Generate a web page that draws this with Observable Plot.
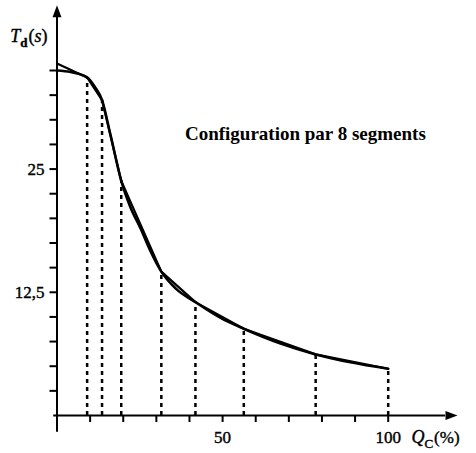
<!DOCTYPE html>
<html>
<head>
<meta charset="utf-8">
<script src="https://cdn.jsdelivr.net/npm/d3@7"></script>
<script src="https://cdn.jsdelivr.net/npm/@observablehq/plot@0.6"></script>
<style>
  html, body { margin: 0; padding: 0; background: #fff; }
  #chart svg { display: block; }
</style>
</head>
<body>
<div id="chart"></div>
<script>
// ---- data ----
const breakX = [9.1, 13.6, 19.4, 31.5, 41.8, 56.4, 78.1, 100];
const breakY = [34.3, 32.0, 23.8, 14.6, 11.5, 8.8, 6.2, 4.74];
const segStartX = 0;
const segStartY = 35.7;
const curveX = [0, 4.1, 9.1, 11.3, 13.6, 16.2, 19.4, 22.2, 25.2, 28.2, 31.5, 35.8, 41.8, 49.4, 56.4, 67.5, 78.1, 88.6, 100];
const curveY = [35.0, 34.85, 34.3, 33.4, 32.0, 28.4, 23.8, 21.1, 19.0, 16.7, 14.6, 12.9, 11.5, 9.9, 8.8, 7.3, 6.2, 5.4, 4.74];
const xTicks = [10, 20, 30, 40, 50, 60, 70, 80, 90, 100];
const yTicks = [2.5, 5, 7.5, 10, 12.5, 15, 17.5, 20, 22.5, 25, 27.5, 30, 32.5, 35];
const xLabelValues = [50, 100];
const xLabelTexts = ["50", "100"];
const yLabelValues = [25, 12.5];
const yLabelTexts = ["25", "12,5"];
const titleText = "Configuration par 8 segments";
const yName = ["T", "d", "s"];   // T_d(s)
const xName = ["Q", "C", "%"];   // Q_C(%)

// ---- tables built from the arrays ----
const segPts = [{x: segStartX, y: segStartY}, ...breakX.map((x, i) => ({x, y: breakY[i]}))];
const curvePts = curveX.map((x, i) => ({x, y: curveY[i]}));
const breaks = breakX.map((x, i) => ({x, y: breakY[i]}));

const tri = {
  draw(ctx) { ctx.moveTo(0, -12); ctx.lineTo(4.5, 0); ctx.lineTo(-4.5, 0); ctx.closePath(); }
};

const font = "Liberation Serif, Times New Roman, serif";

const plot = Plot.plot({
  width: 476,
  height: 453,
  marginLeft: 56.5,
  marginRight: 88.3,
  marginTop: 70,
  marginBottom: 38,
  style: {fontFamily: font, fontSize: "17px", color: "#000", background: "#fff"},
  x: {domain: [0, 100]},
  y: {domain: [0, 35]},
  marks: [
    Plot.axisX({ticks: xTicks, tickSize: 7, tickFormat: () => "", strokeWidth: 2, label: null}),
    Plot.axisY({ticks: yTicks, tickSize: 7, tickFormat: () => "", strokeWidth: 2, label: null}),
    // axes lines
    Plot.ruleX([0], {y1: -1.7, y2: 40.4, stroke: "#000", strokeWidth: 2}),
    Plot.ruleY([0], {x1: -1, x2: 117.3, stroke: "#000", strokeWidth: 2}),
    Plot.dot([{x: 0, y: 40.4}], {x: "x", y: "y", symbol: tri, fill: "#000", stroke: null}),
    Plot.dot([{x: 117.3, y: 0}], {x: "x", y: "y", symbol: tri, fill: "#000", stroke: null, rotate: 90}),
    // dashed verticals
    Plot.ruleX(breaks, {x: "x", y1: 0, y2: "y", stroke: "#000", strokeWidth: 2.5, strokeDasharray: "4,4"}),
    // smooth curve & segments
    Plot.line(curvePts, {x: "x", y: "y", curve: "monotone-x", stroke: "#000", strokeWidth: 2.6}),
    Plot.line(segPts, {x: "x", y: "y", stroke: "#000", strokeWidth: 2.2}),
    // tick labels
    Plot.text(xLabelValues, {x: d => d, y: -2.25, text: (d, i) => xLabelTexts[i], fontSize: 17, fill: "#000", stroke: "#000", strokeWidth: 0.4}),
    Plot.text(yLabelValues, {x: -3.8, y: d => d, text: (d, i) => yLabelTexts[i], fontSize: 17, textAnchor: "end", fill: "#000", stroke: "#000", strokeWidth: 0.4}),
    // title
    Plot.text([titleText], {x: 75, y: 28.6, text: d => d, fontSize: 19, fontWeight: "bold", fill: "#000"}),
    // axis names
    Plot.text([yName[0]], {x: -14.1, y: 38.5, text: d => d, fontSize: 18, textAnchor: "start", fill: "#000", stroke: "#000", strokeWidth: 0.4, className: "yname"}),
    Plot.text([xName[0]], {x: 107, y: -2.25, text: d => d, fontSize: 18, textAnchor: "start", fill: "#000", stroke: "#000", strokeWidth: 0.4, className: "xname"})
  ]
});

// rich text for the axis names (subscripts, italics)
const svg = d3.select(plot);
svg.selectAll(".yname text").each(function() {
  const t = d3.select(this);
  t.text(null);
  t.append("tspan").attr("font-style", "italic").text(yName[0]);
  t.append("tspan").attr("font-size", 13).attr("font-weight", "bold").attr("dy", 5).text(yName[1]);
  t.append("tspan").attr("dy", -5).attr("dx", 1).text("(");
  t.append("tspan").attr("font-style", "italic").text(yName[2]);
  t.append("tspan").text(")");
});
svg.selectAll(".xname text").each(function() {
  const t = d3.select(this);
  t.text(null);
  t.append("tspan").attr("font-style", "italic").text(xName[0]);
  t.append("tspan").attr("font-size", 13).attr("dy", 5).text(xName[1]);
  t.append("tspan").attr("dy", -5).attr("dx", 1).attr("font-size", 17).text("(" + xName[2] + ")");
});

document.getElementById("chart").appendChild(plot);
</script>
</body>
</html>
